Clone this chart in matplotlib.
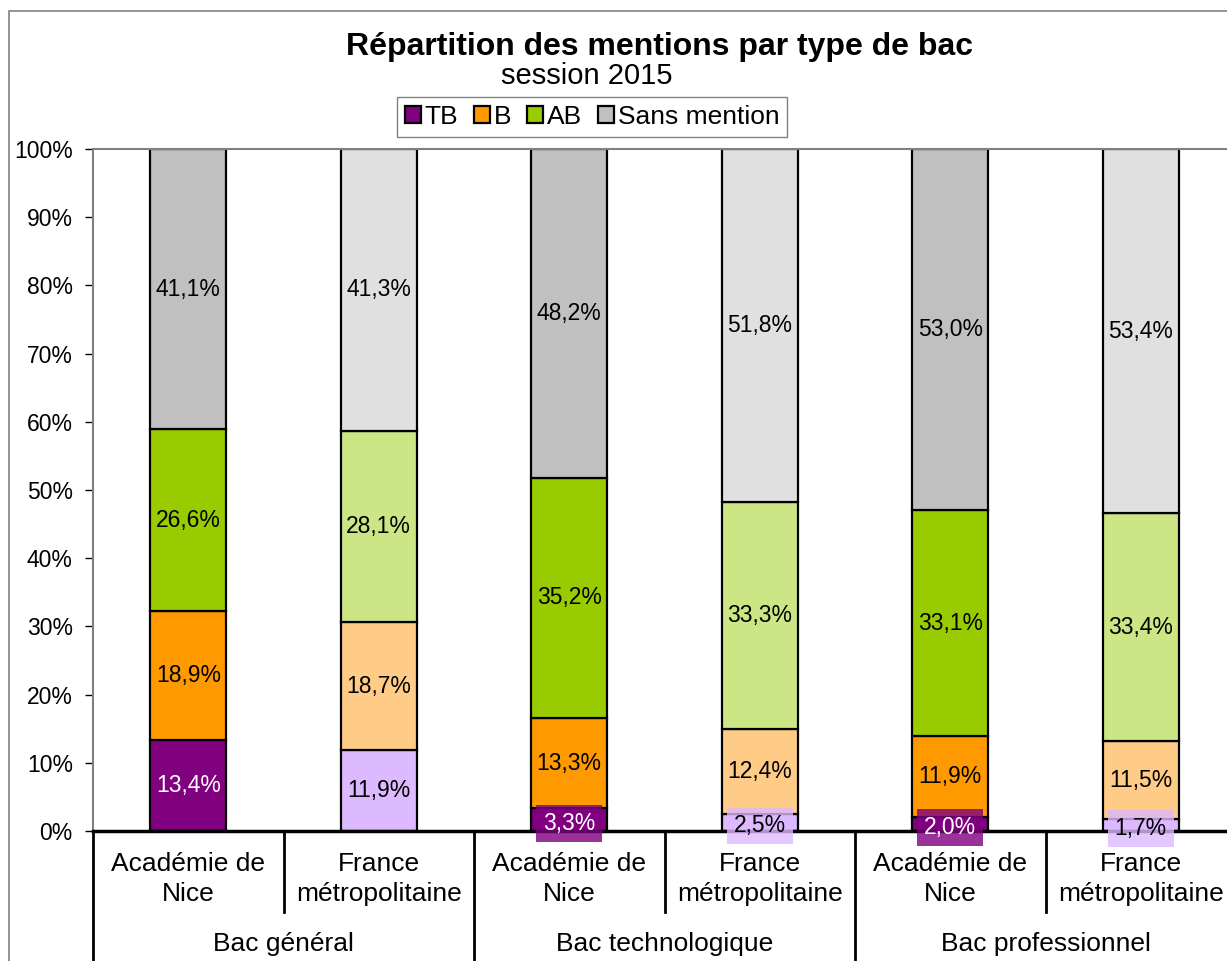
import matplotlib
matplotlib.use("Agg")
import matplotlib.pyplot as plt
from matplotlib.patches import Patch, Rectangle
import numpy as np

plt.rcParams['font.family'] = ['Liberation Sans', 'DejaVu Sans']

groups = ["Bac général", "Bac technologique", "Bac professionnel"]
subcats = ["Académie de\nNice", "France\nmétropolitaine"] * 3
series = ["TB", "B", "AB", "Sans mention"]
tb = [13.4, 11.9, 3.3, 2.5, 2.0, 1.7]
b = [18.9, 18.7, 13.3, 12.4, 11.9, 11.5]
ab = [26.6, 28.1, 35.2, 33.3, 33.1, 33.4]
sm = [41.1, 41.3, 48.2, 51.8, 53.0, 53.4]
values = [tb, b, ab, sm]

dark_colors = ["#800080", "#FF9900", "#99CC00", "#C0C0C0"]
light_colors = ["#DDB9FF", "#FFCC88", "#CCE685", "#E0E0E0"]
label_colors_dark = ["white", "black", "black", "black"]

fig = plt.figure(figsize=(12.27, 9.61), dpi=100)
ax = fig.add_axes([93/1227, 130/961, 1143/1227, 682/961])

x = np.arange(len(subcats))
bottom = np.zeros(len(subcats))
for si, vals in enumerate(values):
    vals = np.array(vals)
    cols = [dark_colors[si] if i % 2 == 0 else light_colors[si] for i in range(len(x))]
    ax.bar(x, vals, bottom=bottom, width=0.4, color=cols, edgecolor="black", linewidth=1.6, zorder=2)
    for i in range(len(x)):
        cy = bottom[i] + vals[i] / 2
        txt = f"{vals[i]:.1f}%".replace(".", ",")
        tc = label_colors_dark[si] if i % 2 == 0 else "black"
        kw = {}
        if si == 0 and vals[i] < 5:
            kw["bbox"] = dict(boxstyle="square,pad=0.3", facecolor=cols[i], edgecolor="none", alpha=0.8)
            cy = cy - 0.5
        ax.text(x[i], cy, txt, ha="center", va="center", fontsize=16.5, color=tc, zorder=6, **kw)
    bottom += vals

ax.set_xlim(-0.5, len(x) - 0.5)
ax.set_ylim(0, 100)
ax.set_yticks(np.arange(0, 101, 10))
ax.set_yticklabels([f"{v}%" for v in range(0, 101, 10)], fontsize=16.5)
ax.tick_params(axis="y", direction="out", length=6, width=1, pad=8.5)
ax.set_xticks(x)
ax.set_xticklabels([""] * len(x))
ax.tick_params(axis="x", direction="in", length=5, width=1.2)

for s in ["top", "left", "right"]:
    ax.spines[s].set_color("#808080")
    ax.spines[s].set_linewidth(1.5)
ax.spines["bottom"].set_color("black")
ax.spines["bottom"].set_linewidth(2.5)
ax.spines["bottom"].set_zorder(5)

trans = ax.get_xaxis_transform()
for k in range(len(x) + 1):
    xe = k - 0.5
    y_end = -0.2 if k % 2 == 0 else -0.119
    ax.plot([xe, xe], [0, y_end], color="black", lw=2, transform=trans, clip_on=False)
for i in range(len(x)):
    ax.text(x[i], -0.0705, subcats[i], transform=trans, ha="center", va="center", fontsize=19, linespacing=1.3)
for g, name in enumerate(groups):
    ax.text(2 * g + 0.5, -0.165, name, transform=trans, ha="center", va="center", fontsize=19)

fig.text(660/1227, 1 - 47/961, "Répartition des mentions par type de bac", ha="center", va="center",
         fontsize=23, fontweight="bold")
fig.text(587/1227, 1 - 76/961, "session 2015", ha="center", va="center", fontsize=21)

handles = [Patch(facecolor=c, edgecolor="black", linewidth=1.6) for c in dark_colors]
leg = fig.legend(handles, series, loc="center", bbox_to_anchor=(592/1227, 1 - 117/961), ncol=4,
                 fontsize=19, handlelength=0.6, handleheight=0.6, handletextpad=0.15, columnspacing=0.6,
                 fancybox=False, framealpha=1, edgecolor="#808080", borderpad=0.3)
leg.get_frame().set_linewidth(1)

fig.patches.append(Rectangle((9/1227, -0.05), 1.1, 1 - 11/961 + 0.05, transform=fig.transFigure,
                             fill=False, edgecolor="#808080", linewidth=1.2))

fig.savefig("out.png", dpi=100)
